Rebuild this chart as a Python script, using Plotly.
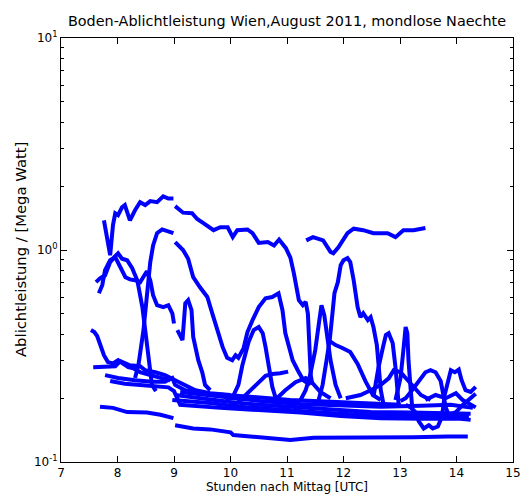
import plotly.graph_objects as go

# ---- data (hours after noon UTC, power in MW) ----
n01a_x = [7.76, 7.82, 7.87, 7.92, 7.96, 8.01, 8.08, 8.13, 8.22, 8.31, 8.40, 8.49, 8.58, 8.70, 8.81, 8.90, 8.99]
n01a_y = [1.38, 1.11, 0.945, 1.31, 1.49, 1.46, 1.59, 1.63, 1.38, 1.54, 1.68, 1.63, 1.70, 1.68, 1.79, 1.75, 1.75]
n01b_x = [9.02, 9.16, 9.32, 9.41, 9.52, 9.70, 9.82, 9.95, 10.04, 10.12, 10.30, 10.39, 10.50, 10.66, 10.77, 10.86, 10.98, 11.06, 11.12, 11.21, 11.28, 11.33, 11.37, 11.39, 11.42, 11.45]
n01b_y = [1.61, 1.50, 1.49, 1.40, 1.34, 1.24, 1.28, 1.28, 1.15, 1.24, 1.25, 1.20, 1.08, 1.09, 1.05, 1.12, 1.02, 0.92, 0.78, 0.58, 0.55, 0.57, 0.50, 0.35, 0.257, 0.231]
n02_x = [11.34, 11.46, 11.64, 11.77, 11.82, 11.91, 12.07, 12.18, 12.35, 12.53, 12.78, 12.92, 13.06, 13.24, 13.45]
n02_y = [1.11, 1.15, 1.11, 0.98, 0.965, 1.03, 1.20, 1.26, 1.24, 1.20, 1.20, 1.15, 1.24, 1.24, 1.27]
n03a_x = [8.31, 8.37, 8.46, 8.53, 8.58, 8.63, 8.70, 8.79, 8.88, 8.99]
n03a_y = [0.249, 0.286, 0.419, 0.646, 0.877, 1.05, 1.20, 1.25, 1.23, 1.20]
n03b_x = [9.02, 9.16, 9.25, 9.34, 9.46, 9.59, 9.68, 9.77, 9.86, 9.94, 10.03, 10.09, 10.14, 10.23, 10.30, 10.39, 10.50, 10.62, 10.74, 10.85, 10.92, 10.97, 11.10, 11.19, 11.29, 11.41]
n03b_y = [1.09, 1.00, 0.91, 0.744, 0.667, 0.60, 0.50, 0.419, 0.349, 0.31, 0.302, 0.319, 0.31, 0.343, 0.41, 0.467, 0.538, 0.592, 0.60, 0.625, 0.52, 0.406, 0.302, 0.271, 0.243, 0.231]
n04_x = [7.62, 7.69, 7.78, 7.87, 7.96, 8.01, 8.08, 8.17, 8.26, 8.35, 8.40, 8.44, 8.49, 8.54, 8.58, 8.61, 8.68]
n04_y = [0.705, 0.735, 0.76, 0.877, 0.935, 0.965, 0.91, 0.895, 0.82, 0.72, 0.612, 0.538, 0.419, 0.33, 0.267, 0.231, 0.216]
n05a_x = [7.67, 7.73, 7.78, 7.87, 7.96, 8.05, 8.14, 8.22, 8.31, 8.40, 8.49, 8.52, 8.58, 8.63, 8.70, 8.81, 8.90, 8.97, 9.00]
n05a_y = [0.625, 0.682, 0.803, 0.895, 0.925, 0.82, 0.744, 0.727, 0.72, 0.705, 0.777, 0.794, 0.72, 0.612, 0.549, 0.538, 0.549, 0.503, 0.45]
n05b_x = [9.06, 9.11, 9.15, 9.20, 9.25, 9.31, 9.34, 9.43, 9.50, 9.55, 9.64]
n05b_y = [0.419, 0.389, 0.376, 0.561, 0.58, 0.52, 0.389, 0.302, 0.265, 0.231, 0.218]
n06_x = [7.53, 7.59, 7.64, 7.69, 7.76, 7.83, 7.92, 8.01, 8.10, 8.19, 8.28, 8.40, 8.58, 8.76, 8.93]
n06_y = [0.419, 0.41, 0.393, 0.356, 0.319, 0.296, 0.292, 0.302, 0.292, 0.28, 0.277, 0.265, 0.257, 0.249, 0.243]
n07_x = [7.57, 7.78, 7.96, 8.05, 8.14, 8.22, 8.40, 8.49, 8.67, 8.84, 9.02, 9.20, 9.38, 9.64, 10.0]
n07_y = [0.28, 0.28, 0.283, 0.299, 0.292, 0.286, 0.283, 0.271, 0.265, 0.257, 0.243, 0.231, 0.218, 0.211, 0.207]
n08_x = [7.78, 8.01, 8.31, 8.61, 8.84, 8.97, 9.02, 9.20, 9.46, 9.82, 10.35, 11.06, 11.77, 12.48, 13.01]
n08_y = [0.257, 0.249, 0.243, 0.239, 0.239, 0.249, 0.231, 0.218, 0.211, 0.207, 0.203, 0.196, 0.192, 0.188, 0.186]
n09_x = [7.87, 8.13, 8.40, 8.67, 8.90, 9.00, 9.11, 9.82, 10.53, 11.24, 11.95, 12.66, 13.37, 14.07, 14.25]
n09_y = [0.241, 0.234, 0.231, 0.229, 0.225, 0.216, 0.186, 0.18, 0.176, 0.171, 0.165, 0.161, 0.16, 0.16, 0.158]
n10a_x = [7.69, 7.92, 8.17, 8.52, 8.76, 8.99]
n10a_y = [0.182, 0.18, 0.172, 0.171, 0.167, 0.161]
n10b_x = [9.02, 9.34, 9.64, 10.00, 10.05, 10.53, 11.06, 11.47, 12.07, 12.66, 13.24, 13.84, 14.20]
n10b_y = [0.149, 0.144, 0.1425, 0.138, 0.134, 0.130, 0.127, 0.130, 0.130, 0.131, 0.131, 0.132, 0.132]
b1_x = [9.02, 9.46, 10.0, 10.53, 11.06, 11.77, 12.48, 13.19, 13.90, 14.25]
b1_y = [0.207, 0.20, 0.192, 0.186, 0.182, 0.176, 0.172, 0.171, 0.169, 0.169]
b2_x = [8.97, 9.64, 10.17, 10.88, 11.59, 12.30, 13.01, 13.72, 14.22]
b2_y = [0.196, 0.19, 0.182, 0.176, 0.171, 0.167, 0.165, 0.163, 0.163]
b4_x = [9.11, 9.82, 10.53, 11.24, 11.95, 12.66, 13.37, 13.90, 14.29]
b4_y = [0.214, 0.203, 0.194, 0.188, 0.184, 0.182, 0.184, 0.186, 0.18]
n11_x = [9.91, 10.03, 10.14, 10.21, 10.32, 10.41, 10.50, 10.57, 10.62, 10.67, 10.74, 10.81, 10.92, 11.06]
n11_y = [0.196, 0.20, 0.231, 0.286, 0.368, 0.419, 0.433, 0.405, 0.349, 0.286, 0.226, 0.196, 0.181, 0.176]
n12_x = [10.03, 10.17, 10.32, 10.44, 10.53, 10.62, 10.74, 10.88, 11.02]
n12_y = [0.18, 0.196, 0.214, 0.229, 0.241, 0.255, 0.26, 0.262, 0.267]
n13_x = [11.24, 11.33, 11.41, 11.50, 11.56, 11.61, 11.66, 11.72, 11.77, 11.86, 11.95]
n13_y = [0.196, 0.218, 0.257, 0.337, 0.442, 0.549, 0.493, 0.389, 0.302, 0.231, 0.20]
n14_x = [11.56, 11.63, 11.70, 11.76, 11.81, 11.84, 11.90, 11.95, 12.00, 12.07, 12.12, 12.18, 12.25, 12.30, 12.35, 12.43, 12.48, 12.53, 12.59, 12.62, 12.66, 12.71]
n14_y = [0.196, 0.231, 0.302, 0.384, 0.52, 0.625, 0.705, 0.848, 0.895, 0.915, 0.877, 0.72, 0.538, 0.482, 0.503, 0.467, 0.482, 0.433, 0.356, 0.271, 0.218, 0.186]
n15_x = [12.53, 12.62, 12.70, 12.75, 12.80, 12.87, 12.92, 12.96, 12.98]
n15_y = [0.203, 0.28, 0.349, 0.397, 0.405, 0.364, 0.28, 0.218, 0.182]
n16_x = [12.92, 13.01, 13.06, 13.10, 13.13, 13.15, 13.19, 13.22]
n16_y = [0.196, 0.25, 0.337, 0.433, 0.405, 0.302, 0.218, 0.176]
n17_x = [13.01, 13.10, 13.19, 13.28, 13.37, 13.45, 13.54, 13.63, 13.72, 13.77, 13.81, 13.86, 13.99, 14.11, 14.25, 14.34]
n17_y = [0.194, 0.20, 0.214, 0.231, 0.25, 0.265, 0.271, 0.265, 0.241, 0.207, 0.181, 0.167, 0.172, 0.186, 0.20, 0.21]
n18_x = [13.10, 13.19, 13.28, 13.33, 13.42, 13.51, 13.58, 13.67, 13.72, 13.76, 13.79, 13.84, 13.90, 13.97, 14.04, 14.09, 14.16, 14.25, 14.34]
n18_y = [0.186, 0.181, 0.171, 0.156, 0.144, 0.149, 0.144, 0.147, 0.158, 0.177, 0.207, 0.233, 0.271, 0.265, 0.273, 0.243, 0.218, 0.214, 0.226]
n19_x = [12.04, 12.30, 12.48, 12.66, 12.80, 12.89, 13.01, 13.19, 13.28, 13.37, 13.54]
n19_y = [0.20, 0.207, 0.218, 0.231, 0.248, 0.271, 0.265, 0.235, 0.221, 0.207, 0.196]
n20_x = [10.79, 10.97, 11.15, 11.33, 11.45, 11.59, 11.77]
n20_y = [0.196, 0.218, 0.238, 0.249, 0.236, 0.214, 0.20]
n21_x = [13.45, 13.63, 13.81, 13.99, 14.11, 14.25, 14.34]
n21_y = [0.196, 0.207, 0.20, 0.211, 0.196, 0.186, 0.181]
n22_x = [11.73, 11.86, 11.98, 12.12, 12.25, 12.39, 12.52, 12.66]
n22_y = [0.376, 0.356, 0.345, 0.33, 0.29, 0.24, 0.207, 0.196]

series = [
    (n01a_x, n01a_y), (n01b_x, n01b_y), (n02_x, n02_y), (n03a_x, n03a_y), (n03b_x, n03b_y),
    (n04_x, n04_y), (n05a_x, n05a_y), (n05b_x, n05b_y), (n06_x, n06_y), (n07_x, n07_y),
    (n08_x, n08_y), (n09_x, n09_y), (n10a_x, n10a_y), (n10b_x, n10b_y), (b1_x, b1_y),
    (b2_x, b2_y), (b4_x, b4_y), (n11_x, n11_y), (n12_x, n12_y), (n13_x, n13_y),
    (n14_x, n14_y), (n15_x, n15_y), (n16_x, n16_y), (n17_x, n17_y), (n18_x, n18_y),
    (n19_x, n19_y), (n20_x, n20_y), (n21_x, n21_y), (n22_x, n22_y),
]

x_ticks = [7, 8, 9, 10, 11, 12, 13, 14, 15]
y_ticks = [0.1, 1, 10]
y_ticktext = ["10<sup>-1</sup>", "10<sup>0</sup>", "10<sup>1</sup>"]
y_minor = [0.2, 0.3, 0.4, 0.5, 0.6, 0.7, 0.8, 0.9, 2, 3, 4, 5, 6, 7, 8, 9]

fig = go.Figure()
for sx, sy in series:
    fig.add_trace(go.Scatter(x=sx, y=sy, mode="lines",
                             line=dict(color="#0000ff", width=4),
                             showlegend=False, hoverinfo="skip"))

font = dict(family="DejaVu Sans", size=12, color="black")
fig.update_layout(
    width=520, height=496,
    margin=dict(l=61, r=7, t=38, b=34, autoexpand=False),
    paper_bgcolor="white", plot_bgcolor="white",
    font=font,
    title=dict(text="Boden-Ablichtleistung Wien,August 2011, mondlose Naechte",
               x=0.5, xref="paper", y=1 - 21 / 496, yref="container",
               xanchor="center", yanchor="middle",
               font=dict(family="DejaVu Sans", size=14.4, color="black")),
    annotations=[
        dict(text="Stunden nach Mittag [UTC]", xref="paper", yref="paper",
             x=0.5, y=-25 / 424, xanchor="center", yanchor="middle",
             showarrow=False, font=dict(family="DejaVu Sans", size=12, color="black")),
        dict(text="Ablichtleistung / [Mega Watt]", xref="paper", yref="paper",
             x=-41 / 452, y=0.5, xanchor="center", yanchor="middle",
             textangle=-90, showarrow=False,
             font=dict(family="DejaVu Sans", size=14.8, color="black")),
    ],
)
fig.update_xaxes(
    range=[7, 15], tickvals=x_ticks, ticks="inside", ticklen=6, tickcolor="black",
    showline=True, linecolor="black", linewidth=1, mirror="ticks",
    showgrid=False, zeroline=False, tickfont=font, automargin=False,
    ticklabeloverflow="allow",
)
fig.update_yaxes(
    type="log", range=[-1, 1], tickvals=y_ticks, ticktext=y_ticktext,
    ticks="inside", ticklen=6, tickcolor="black",
    minor=dict(tickvals=y_minor, ticks="inside", ticklen=3, tickcolor="black"),
    showline=True, linecolor="black", linewidth=1, mirror="ticks",
    showgrid=False, zeroline=False, tickfont=font, automargin=False,
    ticklabeloverflow="allow",
)
fig.write_html("out.html", config={"displayModeBar": False},
               post_script="document.body.style.margin='0px';document.body.style.overflow='hidden';")
